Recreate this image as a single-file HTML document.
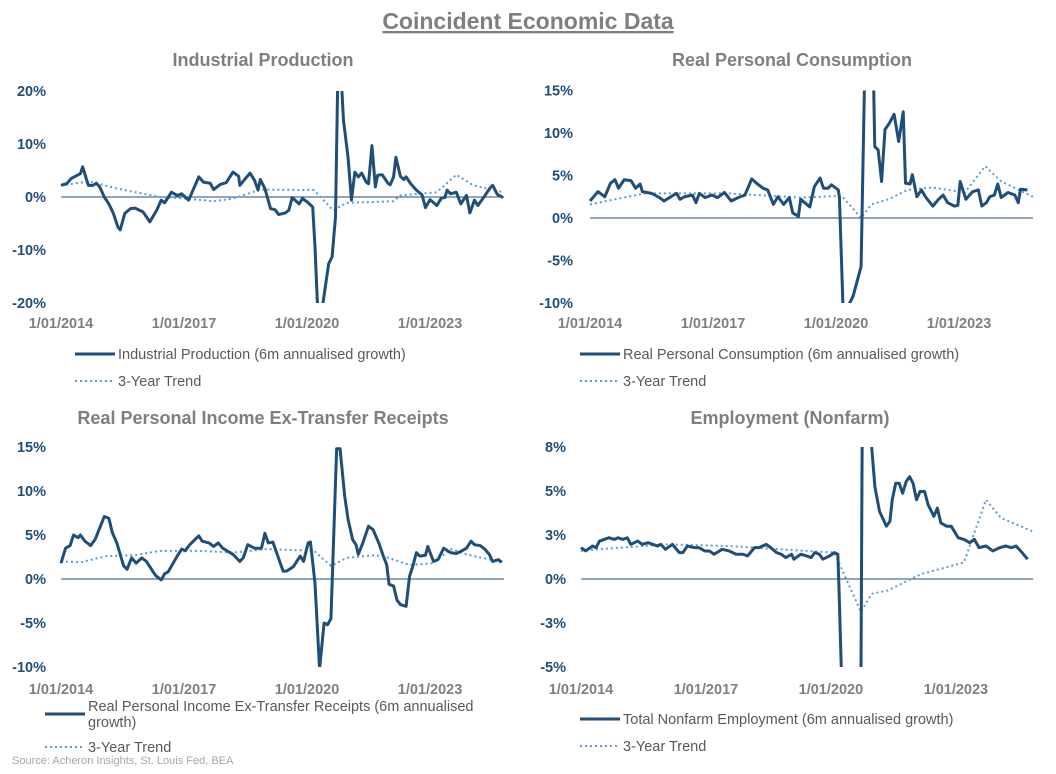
<!DOCTYPE html>
<html><head><meta charset="utf-8">
<style>
body{margin:0;background:#fff;width:1056px;height:769px;overflow:hidden;font-family:"Liberation Sans",Arial,sans-serif}
svg text{font-family:"Liberation Sans",Arial,sans-serif}
</style></head>
<body>
<svg id="c" width="1056" height="769">
<text x="528" y="29" text-anchor="middle" font-size="23" font-weight="bold" fill="#7f7f7f" text-decoration="underline">Coincident Economic Data</text>
<text x="12" y="764" font-size="11" fill="#a6a6a6">Source: Acheron Insights, St. Louis Fed, BEA</text>
</svg>
<script>
// t = thirds of a month since Jan 2014 (36 per year)
const xTickYears = ["1/01/2014","1/01/2017","1/01/2020","1/01/2023"];
const xTickT = [0,108,216,324];

const ipT = [0,5,9,17,19,24,28,31,34,38,42,46,50,52,56,61,65,72,78,84,88,91,97,102,106,112,121,125,131,134,140,145,151,156,157,162,166,170,173,175,179,184,188,191,197,200,203,209,212,216,221,223,225,226,230,235,238,241,243,246,248,252,255,258,261,264,268,270,273,276,278,282,287,289,292,294,298,301,303,307,312,317,320,324,330,334,337,339,342,347,351,356,359,363,366,371,377,379,383,388];
const ipV = [2.2,2.5,3.5,4.4,5.7,2.2,2.2,2.6,1.9,0,-1.3,-3.1,-5.7,-6.2,-3.1,-2.2,-2.1,-2.8,-4.7,-2.5,-0.6,-1.1,0.9,0.3,0.6,-0.6,3.8,2.8,2.6,1.4,2.4,2.7,4.7,3.9,2.2,3.5,4.5,3.1,1.3,3.3,1.6,-2.2,-2.4,-3.3,-3.0,-2.5,-0.1,-1.3,-0.3,-0.9,-1.9,-9.4,-19.5,-21.4,-20,-12.6,-11.3,-3.8,22.6,22.6,14.5,7.5,-0.6,4.7,3.8,4.5,2.8,2.5,9.7,1.9,4.1,4.2,2.6,2.3,3.8,7.5,3.9,3.3,3.8,2.5,1.3,0.4,-2.0,-0.5,-1.6,-0.2,-0.1,1.3,0.6,0.9,-1.3,0.3,-3.0,-0.6,-1.6,-0.1,1.8,2.2,0.5,-0.1];
const ipTrendT = [0,20,28,49,87,110,134,151,175,222,239,251,292,298,330,347,362,388];
const ipTrendV = [2.2,2.8,2.8,1.6,0,-0.3,-0.8,-0.3,1.4,1.3,-2.5,-1.1,-0.8,0.3,0.9,4.2,2.2,0.9];

const pcT = [0,7,13,18,22,25,30,36,40,44,46,54,61,65,71,76,79,83,90,93,96,101,107,112,118,124,130,136,142,147,152,156,161,165,170,175,178,183,185,193,197,202,205,209,212,218,219,222,225,231,238,241,249,250,253,256,259,263,267,271,275,277,281,283,287,291,295,301,306,310,314,320,323,325,330,336,341,344,348,351,355,358,361,367,373,376,378,384];
const pcV = [2.0,3.1,2.5,4.1,4.5,3.5,4.5,4.4,3.5,4.0,3.1,2.9,2.4,2.0,2.5,2.9,2.2,2.5,2.7,1.8,2.9,2.4,2.7,2.4,3.0,2.0,2.4,2.7,4.6,4.0,3.5,3.3,1.6,2.5,1.6,2.4,0.6,0.2,2.2,1.3,3.7,4.7,3.5,3.5,3.9,3.3,2.4,-10,-10.8,-9.2,-5.7,15.9,15.9,8.4,8.0,4.3,10.4,11.2,12.2,9.0,12.5,4.1,4.0,5.1,2.5,3.3,2.4,1.4,2.2,2.7,1.8,1.4,1.5,4.3,2.2,3.1,3.3,1.4,1.8,2.5,2.7,4.0,2.4,3.0,2.7,1.8,3.4,3.3];
const pcTrendT = [0,22,48,121,185,221,238,247,262,279,300,329,347,361,389];
const pcTrendV = [1.6,2.2,2.9,2.9,2.4,2.6,0,1.6,2.2,3.3,3.6,3.0,6.1,4.3,2.5];

const piT = [0,4,8,11,15,17,21,26,30,34,38,42,45,49,55,58,62,66,71,75,83,88,91,94,102,106,109,113,121,124,130,134,138,142,147,151,157,160,164,170,176,179,182,186,195,198,204,210,213,217,219,223,227,231,234,237,242,245,249,252,256,259,261,265,270,274,279,283,286,288,292,295,298,303,306,309,312,315,320,322,327,331,336,342,347,352,356,360,363,368,372,376,379,384,387];
const piV = [1.8,3.5,3.8,5.0,4.7,5.0,4.3,3.8,4.5,5.8,7.1,6.9,5.3,4.1,1.5,1.1,2.4,1.8,2.4,2.0,0.4,-0.1,0.6,0.8,2.6,3.4,3.2,3.9,4.9,4.3,4.1,3.7,4.1,3.5,3.1,2.8,2.0,2.4,3.9,3.5,3.5,5.2,4.1,4.2,0.9,0.9,1.4,2.6,2.0,4.1,4.2,-0.5,-10.2,-5.0,-5.2,-4.5,14.8,14.8,9.5,6.8,4.5,3.9,2.8,4.1,6.0,5.6,4.1,2.6,1.6,-0.6,-0.8,-2.4,-2.9,-3.1,0.3,1.5,3.0,2.6,2.7,3.7,2.0,2.2,3.5,3.0,2.9,3.2,3.5,4.3,3.9,3.8,3.4,2.8,2.0,2.2,1.9];
const piTrendT = [0,17,40,64,87,122,151,181,222,237,251,274,283,306,327,342,356,387];
const piTrendV = [2.0,1.9,2.6,2.7,3.2,3.2,3.0,3.4,3.2,1.5,2.4,2.7,2.6,1.6,1.8,3.4,2.8,1.9];

const emT = [0,4,10,13,16,20,24,29,32,36,40,43,49,53,58,62,66,69,73,79,85,88,92,98,102,107,111,115,122,128,134,140,144,150,154,160,164,169,173,177,182,184,190,195,199,202,206,209,215,219,222,223,225,242,243,251,254,258,264,267,269,272,275,278,281,284,287,290,293,297,300,305,308,311,316,320,326,331,336,340,344,350,356,362,367,372,376,380,386];
const emV = [1.9,1.7,2.0,1.9,2.3,2.4,2.5,2.4,2.5,2.4,2.5,2.1,2.3,2.1,2.2,2.1,2.0,2.1,1.8,2.1,1.6,1.6,2.0,1.9,1.9,1.7,1.7,1.5,1.8,1.7,1.5,1.5,1.4,1.9,1.9,2.1,1.9,1.6,1.5,1.3,1.5,1.2,1.5,1.4,1.3,1.6,1.5,1.2,1.4,1.6,1.5,-0.6,-5.5,-5.5,8.2,8.2,5.6,4.1,3.2,3.5,4.8,5.8,5.8,5.2,5.9,6.2,5.8,4.8,5.3,5.3,4.5,3.8,4.3,3.4,3.2,3.2,2.5,2.4,2.2,2.4,1.9,2.0,1.7,1.9,2.0,1.9,2.0,1.7,1.2];
const emTrendT = [0,14,75,127,219,242,251,265,294,331,350,363,390];
const emTrendV = [1.7,1.8,2.1,2.0,1.6,-2.0,-0.9,-0.7,0.3,1.0,4.8,3.7,2.9];

const ipTicks=[20,10,0,-10,-20], ipTickLbl=["20%","10%","0%","-10%","-20%"];
const pcTicks=[15,10,5,0,-5,-10], pcTickLbl=["15%","10%","5%","0%","-5%","-10%"];
const piTicks=[15,10,5,0,-5,-10], piTickLbl=["15%","10%","5%","0%","-5%","-10%"];
const emTicks=[8,5.333,2.667,0,-2.667,-5.333], emTickLbl=["8%","5%","3%","0%","-3%","-5%"];

const NS="http://www.w3.org/2000/svg";
const svg=document.getElementById('c');
function mk(tag,attrs,parent){const e=document.createElementNS(NS,tag);for(const k in attrs)e.setAttribute(k,attrs[k]);(parent||svg).appendChild(e);return e;}

function chart(o){
  const g=mk('g',{});
  
  
  const X=t=>o.x0+t*o.kx;
  const Y=v=>o.y0-v*o.ky;
  const title=mk('text',{x:o.tx,y:o.ty,'text-anchor':'middle','font-size':18,'font-weight':'bold',fill:'#7f7f7f'},g);
  title.textContent=o.title;
  
  
  o.ticks.forEach((v,i)=>{
    const t=mk('text',{x:o.ylx,y:Y(v)+5,'text-anchor':'end','font-size':14.5,'font-weight':'bold',fill:'#1f4e79'},g);
    t.textContent=o.tickLbl[i];
    
    
  });
  xTickT.forEach((tt,i)=>{
    const t=mk('text',{x:X(tt),y:o.xly,'text-anchor':'middle','font-size':14.5,'font-weight':'bold',fill:'#7f7f7f'},g);
    t.textContent=xTickYears[i];
    
    
  });
  const zl=mk('line',{x1:X(0),x2:o.xEnd,y1:Y(0),y2:Y(0),stroke:'#1f4e79','stroke-width':1},g);
  
  
  const cid='clip'+o.name;
  const cp=mk('clipPath',{id:cid},g);
  mk('rect',{x:X(0)-5,y:Y(o.ticks[0]),width:o.xEnd-X(0)+10,height:Y(o.ticks[o.ticks.length-1])-Y(o.ticks[0])},cp);
  const tr=mk('polyline',{points:o.trT.map((t,i)=>X(t)+','+Y(o.trV[i])).join(' '),fill:'none',stroke:'#5b9bd5','stroke-width':2,'stroke-dasharray':'2 3','clip-path':'url(#'+cid+')'},g);
  
  
  const ln=mk('polyline',{points:o.T.map((t,i)=>X(t)+','+Y(o.V[i])).join(' '),fill:'none',stroke:'#1f4e79','stroke-width':3,'stroke-linejoin':'round','clip-path':'url(#'+cid+')'},g);
  
  
  // legend
  const l1=mk('line',{x1:o.lgx,x2:o.lgx+40,y1:o.lg1,y2:o.lg1,stroke:'#1f4e79','stroke-width':3},g);
  
  
  o.lgText.forEach((s,i)=>{
    const t=mk('text',{x:o.lgx+43,y:o.lgTy+i*16,'font-size':14.5,fill:'#595959'},g);
    t.textContent=s;
    
    
  });
  const l2=mk('line',{x1:o.lgx,x2:o.lgx+40,y1:o.lg2,y2:o.lg2,stroke:'#5b9bd5','stroke-width':2,'stroke-dasharray':'2 3'},g);
  
  
  const t2=mk('text',{x:o.lgx+43,y:o.lg2+5,'font-size':14.5,fill:'#595959'},g);
  t2.textContent='3-Year Trend';
  
  
}

chart({name:'industrial-production-chart',title:'Industrial Production',tx:263,ty:66,x0:61,kx:1.139,y0:197,ky:5.3,ylx:46,xly:328,xEnd:504,ticks:ipTicks,tickLbl:ipTickLbl,T:ipT,V:ipV,trT:ipTrendT,trV:ipTrendV,lgx:75,lg1:354,lgTy:359,lgText:['Industrial Production (6m annualised growth)'],lg2:381});
chart({name:'real-personal-consumption-chart',title:'Real Personal Consumption',tx:792,ty:66,x0:590,kx:1.139,y0:218,ky:8.5,ylx:573,xly:328,xEnd:1033,ticks:pcTicks,tickLbl:pcTickLbl,T:pcT,V:pcV,trT:pcTrendT,trV:pcTrendV,lgx:580,lg1:354,lgTy:359,lgText:['Real Personal Consumption (6m annualised growth)'],lg2:381});
chart({name:'real-personal-income-chart',title:'Real Personal Income Ex-Transfer Receipts',tx:263,ty:424,x0:61,kx:1.139,y0:579,ky:8.8,ylx:46,xly:694,xEnd:504,ticks:piTicks,tickLbl:piTickLbl,T:piT,V:piV,trT:piTrendT,trV:piTrendV,lgx:45,lg1:714,lgTy:711,lgText:['Real Personal Income Ex-Transfer Receipts (6m annualised','growth)'],lg2:747});
chart({name:'employment-nonfarm-chart',title:'Employment (Nonfarm)',tx:790,ty:424,x0:581,kx:1.157,y0:579,ky:16.5,ylx:566,xly:694,xEnd:1033,ticks:emTicks,tickLbl:emTickLbl,T:emT,V:emV,trT:emTrendT,trV:emTrendV,lgx:580,lg1:719,lgTy:724,lgText:['Total Nonfarm Employment (6m annualised growth)'],lg2:746});
</script>
</body></html>
